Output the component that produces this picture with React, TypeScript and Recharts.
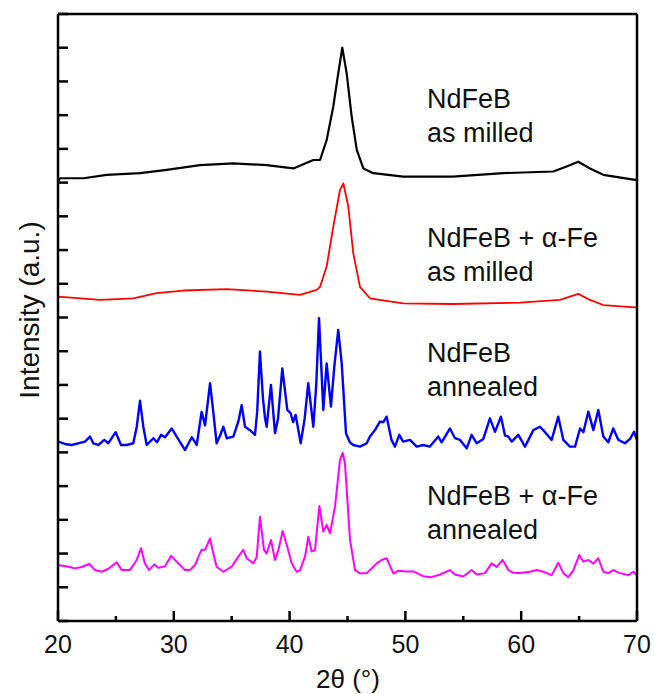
import React from "react";
import { LineChart, Line, XAxis, YAxis } from "recharts";

// 2θ (deg), intensity (a.u., stacked offsets already included)
const asMilled: [number, number][] = [
  [20, 13.0], [20.17, 13.13], [22.2, 13.13], [24.2, 13.23], [27.08, 13.28], [29.39, 13.38],
  [32.26, 13.52], [35.14, 13.57], [38.02, 13.52], [40.32, 13.42], [42.05, 13.67], [42.63, 13.67],
  [43.2, 14.26], [43.77, 15.25], [44.2, 16.24], [44.55, 17.0], [44.93, 16.24], [45.36, 14.96],
  [45.8, 13.97], [46.37, 13.42], [47.23, 13.28], [49.8, 13.18], [54.1, 13.18], [58.45, 13.28],
  [62.77, 13.33], [63.92, 13.48], [64.93, 13.62], [65.94, 13.42], [67.09, 13.23], [69.83, 13.08],
  [70, 13.1],
];

const feAsMilled: [number, number][] = [
  [20, 9.62], [23.63, 9.52], [26.5, 9.57], [28.52, 9.72], [30.82, 9.8], [34.57, 9.84],
  [38.02, 9.77], [40.9, 9.67], [42.34, 9.82], [42.63, 9.91], [43.2, 10.51], [43.77, 11.69],
  [44.35, 12.78], [44.64, 12.98], [45.07, 12.29], [45.5, 10.9], [46.08, 9.91], [46.94, 9.57],
  [49.8, 9.42], [54.1, 9.4], [59.9, 9.44], [63.35, 9.52], [64.93, 9.7], [65.94, 9.52],
  [67.09, 9.37], [69.83, 9.3], [70, 9.3],
];

const annealed: [number, number][] = [
  [20.0, 5.32], [20.6, 5.25], [21.18, 5.22], [21.9, 5.28], [22.33, 5.32], [22.76, 5.47],
  [23.05, 5.27], [23.48, 5.22], [24.0, 5.37], [24.34, 5.27], [24.98, 5.6], [25.44, 5.22],
  [25.93, 5.22], [26.5, 5.27], [26.8, 5.76], [27.08, 6.53], [27.37, 5.76], [27.66, 5.22],
  [28.23, 5.42], [28.55, 5.3], [28.9, 5.52], [29.24, 5.45], [29.82, 5.71], [30.25, 5.47],
  [30.97, 5.07], [31.55, 5.45], [31.98, 5.22], [32.4, 6.2], [32.7, 5.8], [33.13, 7.05],
  [33.36, 6.36], [33.7, 5.27], [34.0, 5.5], [34.28, 5.76], [34.57, 5.42], [35.14, 5.47],
  [35.57, 5.91], [35.86, 6.4], [36.15, 5.76], [36.58, 5.66], [37.01, 5.52], [37.2, 6.2],
  [37.44, 7.99], [37.7, 6.6], [37.88, 6.01], [38.02, 5.76], [38.39, 7.0], [38.74, 5.57],
  [39.0, 6.0], [39.37, 7.49], [39.8, 6.26], [40.09, 6.16], [40.3, 5.9], [40.52, 6.11],
  [40.96, 5.27], [41.3, 6.0], [41.61, 7.05], [42.05, 5.76], [42.3, 7.0], [42.54, 8.98],
  [42.91, 6.26], [43.2, 7.64], [43.57, 6.36], [43.86, 7.54], [44.2, 8.63], [44.5, 7.64],
  [44.87, 5.57], [45.2, 5.3], [45.5, 5.22], [46.08, 5.17], [46.66, 5.27], [46.94, 5.47],
  [47.37, 5.66], [47.8, 5.91], [48.1, 5.9], [48.38, 6.06], [48.8, 5.37], [49.1, 5.17],
  [49.47, 5.52], [49.8, 5.32], [50.4, 5.37], [50.97, 5.17], [51.54, 5.22], [52.1, 5.17],
  [52.84, 5.47], [53.13, 5.3], [53.85, 5.71], [54.28, 5.42], [54.72, 5.37], [55.29, 5.12],
  [55.72, 5.52], [56.16, 5.27], [56.73, 5.4], [57.3, 6.01], [57.74, 5.61], [58.25, 6.06],
  [58.6, 5.5], [58.89, 5.47], [59.18, 5.32], [59.75, 5.52], [60.33, 5.17], [61.05, 5.66],
  [61.62, 5.76], [62.06, 5.6], [62.63, 5.37], [63.2, 6.06], [63.64, 5.37], [64.21, 5.17],
  [64.65, 5.17], [65.08, 5.71], [65.37, 5.6], [65.8, 6.21], [66.23, 5.66], [66.66, 6.26],
  [67.09, 5.47], [67.52, 5.3], [67.95, 5.71], [68.39, 5.37], [68.96, 5.27], [69.4, 5.4],
  [69.74, 5.61], [70, 5.37],
];

const feAnnealed: [number, number][] = [
  [20, 1.66], [20.9, 1.61], [21.47, 1.56], [22.05, 1.6], [22.7, 1.69], [23.2, 1.51],
  [23.77, 1.46], [24.35, 1.55], [25.07, 1.74], [25.5, 1.51], [26.2, 1.51], [26.8, 1.81],
  [27.17, 2.16], [27.5, 1.71], [27.86, 1.51], [28.32, 1.68], [28.66, 1.58], [29.24, 1.62],
  [29.76, 1.93], [30.25, 1.76], [30.97, 1.51], [31.4, 1.51], [31.83, 1.66], [32.26, 2.01],
  [32.4, 2.11], [32.7, 2.11], [33.13, 2.45], [33.41, 2.0], [33.7, 1.61], [34.28, 1.46],
  [35.0, 1.61], [35.57, 1.91], [36.0, 2.11], [36.3, 1.86], [36.87, 1.71], [37.16, 1.9],
  [37.44, 3.09], [37.79, 2.11], [38.02, 2.0], [38.39, 2.4], [38.74, 1.81], [39.03, 2.1],
  [39.4, 2.67], [39.8, 2.2], [40.18, 1.71], [40.61, 1.46], [40.9, 1.5], [41.33, 1.91],
  [41.62, 2.5], [41.9, 2.06], [42.19, 2.1], [42.57, 3.41], [42.91, 2.65], [43.2, 2.85],
  [43.49, 2.6], [43.92, 3.39], [44.35, 4.77], [44.58, 4.99], [44.78, 4.68], [45.22, 2.4],
  [45.65, 1.51], [46.08, 1.41], [46.66, 1.42], [47.23, 1.61], [47.52, 1.71], [47.95, 1.81],
  [48.38, 1.86], [48.96, 1.41], [49.39, 1.49], [50.1, 1.47], [50.68, 1.47], [51.54, 1.33],
  [52.27, 1.3], [52.99, 1.38], [53.85, 1.51], [54.28, 1.38], [55.0, 1.32], [55.72, 1.51],
  [56.16, 1.38], [56.87, 1.42], [57.45, 1.71], [57.88, 1.6], [58.4, 1.81], [58.89, 1.51],
  [59.32, 1.43], [59.9, 1.42], [60.76, 1.46], [61.34, 1.51], [61.91, 1.46], [62.63, 1.36],
  [63.2, 1.73], [63.64, 1.42], [64.07, 1.3], [64.5, 1.5], [65.02, 1.96], [65.37, 1.76],
  [65.8, 1.81], [66.23, 1.7], [66.66, 1.86], [67.09, 1.46], [67.52, 1.42], [67.95, 1.51],
  [68.53, 1.42], [69.25, 1.36], [69.68, 1.46], [70, 1.36],
];

const xTicks = [20, 25, 30, 35, 40, 45, 50, 55, 60, 65, 70];
const yTicks = [0, 1, 2, 3, 4, 5, 6, 7, 8, 9, 10, 11, 12, 13, 14, 15, 16, 17, 18];

const SERIES = [
  { id: "asMilled", data: asMilled, color: "#000000", width: 2.2 },
  { id: "feAsMilled", data: feAsMilled, color: "#ff0000", width: 1.8 },
  { id: "annealed", data: annealed, color: "#0000ff", width: 2.4 },
  { id: "feAnnealed", data: feAnnealed, color: "#ff00ff", width: 2.0 },
];

// curve annotations: two lines each
const LABELS = [
  { lines: ["NdFeB", "as milled"], base: 108 },
  { lines: ["NdFeB + α-Fe", "as milled"], base: 247 },
  { lines: ["NdFeB", "annealed"], base: 362 },
  { lines: ["NdFeB + α-Fe", "annealed"], base: 505 },
];

const FONT = "'Liberation Sans', Arial, sans-serif";
const W = 654;
const H = 694;
const AX = { stroke: "#000", strokeWidth: 2.5 };

// inward ticks, long on multiples of 10
function BottomTick(props: any) {
  const { x, y, payload } = props;
  const major = payload.value % 10 === 0;
  return (
    <g>
      <line x1={x} x2={x} y1={y} y2={y - (major ? 10 : 5)} stroke="#000" strokeWidth={2.5} />
      {major && (
        <text x={x} y={y + 32} textAnchor="middle" fontSize={25} fontFamily={FONT} fill="#111">
          {payload.value}
        </text>
      )}
    </g>
  );
}

function TopTick(props: any) {
  const { x, y, payload } = props;
  const major = payload.value % 10 === 0;
  return <line x1={x} x2={x} y1={y} y2={y + (major ? 10 : 5)} stroke="#000" strokeWidth={2.5} />;
}

function LeftTick(props: any) {
  const { x, y } = props;
  return <line x1={x} x2={x + 10} y1={y} y2={y} stroke="#000" strokeWidth={2.5} />;
}

function RightTick(props: any) {
  const { x, y } = props;
  return <line x1={x} x2={x - 10} y1={y} y2={y} stroke="#000" strokeWidth={2.5} />;
}

export default function App() {
  return (
    <div style={{ position: "absolute", left: 0, top: 0, width: W, height: H, background: "#fff" }}>
      {/* axes get size 1 (0 hides them), margins carry the rest */}
      <LineChart width={W} height={H} margin={{ top: 13, right: 16, left: 57, bottom: 72 }}>
        <XAxis
          xAxisId="b"
          dataKey="x"
          type="number"
          domain={[20, 70]}
          ticks={xTicks}
          interval={0}
          height={1}
          tickSize={0}
          tickMargin={0}
          tick={<BottomTick />}
          axisLine={AX}
          tickLine={false}
          allowDataOverflow
        />
        <XAxis
          xAxisId="t"
          orientation="top"
          dataKey="x"
          type="number"
          domain={[20, 70]}
          ticks={xTicks}
          interval={0}
          height={1}
          tickSize={0}
          tickMargin={0}
          tick={<TopTick />}
          axisLine={AX}
          tickLine={false}
        />
        <YAxis
          yAxisId="l"
          type="number"
          domain={[0, 18]}
          ticks={yTicks}
          interval={0}
          width={1}
          tickSize={0}
          tickMargin={0}
          tick={<LeftTick />}
          axisLine={AX}
          tickLine={false}
        />
        <YAxis
          yAxisId="r"
          orientation="right"
          type="number"
          domain={[0, 18]}
          ticks={yTicks}
          interval={0}
          width={1}
          tickSize={0}
          tickMargin={0}
          tick={<RightTick />}
          axisLine={AX}
          tickLine={false}
        />
        {SERIES.map((s) => (
          <Line
            key={s.id}
            xAxisId="b"
            yAxisId="l"
            data={s.data.map(([x, y]) => ({ x, y }))}
            dataKey="y"
            type="linear"
            stroke={s.color}
            strokeWidth={s.width}
            strokeLinejoin="round"
            dot={false}
            activeDot={false}
            isAnimationActive={false}
          />
        ))}
      </LineChart>
      <svg
        width={W}
        height={H}
        style={{ position: "absolute", left: 0, top: 0, pointerEvents: "none" }}
        fontFamily={FONT}
      >
        {LABELS.map((l, i) => (
          <text key={i} x={427} y={l.base} fontSize={27} fill="#111">
            <tspan x={427}>{l.lines[0]}</tspan>
            <tspan x={427} dy={34}>
              {l.lines[1]}
            </tspan>
          </text>
        ))}
        <text x={348} y={688} textAnchor="middle" fontSize={26} fill="#111">
          2θ (°)
        </text>
        <text
          transform="translate(39,310) rotate(-90)"
          textAnchor="middle"
          fontSize={28}
          fill="#111"
        >
          Intensity (a.u.)
        </text>
      </svg>
    </div>
  );
}
